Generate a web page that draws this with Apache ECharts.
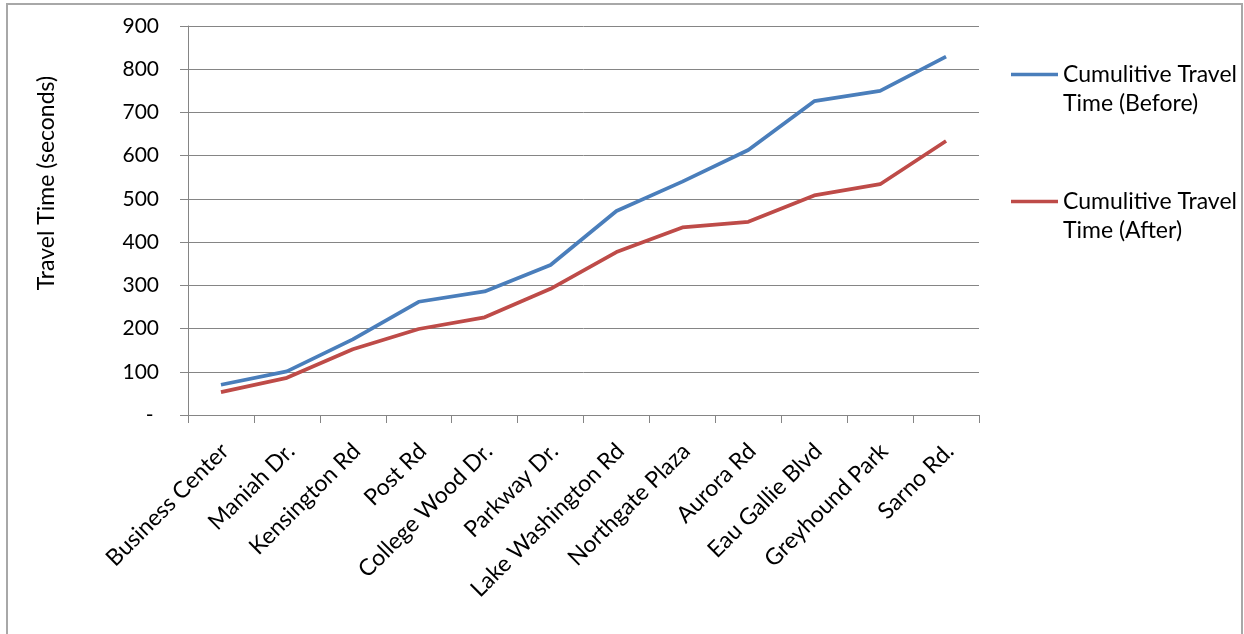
<!DOCTYPE html>
<html>
<head>
<meta charset="utf-8">
<script src="https://cdn.jsdelivr.net/npm/echarts@6/dist/echarts.min.js"></script>
<style>
html,body{margin:0;padding:0;background:#fff;}
#chart{width:1244px;height:634px;}
</style>
</head>
<body>
<div id="chart"></div>
<script>
const categories = ['Business Center','Maniah Dr.','Kensington Rd','Post Rd','College Wood Dr.','Parkway Dr.','Lake Washington Rd','Northgate Plaza','Aurora Rd','Eau Gallie Blvd','Greyhound Park','Sarno Rd.'];
const beforeValues = [70, 101, 175, 262, 286, 347, 472, 540, 613, 726, 750, 829];
const afterValues = [53, 86, 152, 199, 226, 292, 377, 434, 447, 508, 534, 634];
const seriesNames = ['Cumulitive Travel Time (Before)', 'Cumulitive Travel Time (After)'];
const legendLabels = ['Cumulitive Travel\nTime (Before)', 'Cumulitive Travel\nTime (After)'];
const yTitle = 'Travel Time (seconds)';

const FONT = 'Lato';
const GRAY = '#858585';
const TXT = '#000';

const chart = echarts.init(document.getElementById('chart'), null, {renderer: 'canvas'});
chart.setOption({
  animation: false,
  backgroundColor: '#fff',
  textStyle: {fontFamily: FONT},
  graphic: [
    {type: 'rect', z: -10, shape: {x: 7, y: 4, width: 1235, height: 700},
     style: {fill: '#fff', stroke: '#a8a8a8', lineWidth: 2}},
    {type: 'text', x: 47, y: 183, rotation: Math.PI / 2,
     style: {text: yTitle, fontFamily: FONT, fontSize: 23, fill: TXT, align: 'center', verticalAlign: 'middle'}}
  ],
  legend: {
    orient: 'vertical',
    left: 1011,
    top: 31,
    padding: 0,
    itemWidth: 47,
    itemHeight: 14,
    itemGap: 40,
    icon: 'path://M0,6 L47,6 L47,9.5 L0,9.5 Z',
    textStyle: {fontFamily: FONT, fontSize: 23, color: TXT, lineHeight: 29},
    formatter: name => '\n' + legendLabels[seriesNames.indexOf(name)],
    data: seriesNames
  },
  grid: {left: 188, top: 26, width: 791, height: 389, containLabel: false},
  xAxis: {
    type: 'category',
    data: categories,
    boundaryGap: true,
    axisLine: {lineStyle: {color: GRAY, width: 1}},
    axisTick: {show: true, length: 8, lineStyle: {color: GRAY}},
    axisLabel: {rotate: 45, margin: 20, verticalAlign: 'top', padding: [0, 6, 0, 0],
      fontFamily: FONT, fontSize: 23, color: TXT, interval: 0}
  },
  yAxis: {
    type: 'value',
    min: 0, max: 900, interval: 100,
    axisLine: {show: true, lineStyle: {color: GRAY, width: 1}},
    axisTick: {show: true, length: 8, lineStyle: {color: GRAY}},
    splitLine: {show: true, lineStyle: {color: GRAY, width: 1}},
    axisLabel: {margin: 29, fontFamily: FONT, fontSize: 21, color: TXT,
      formatter: v => v === 0 ? '- ' : String(v)}
  },
  series: [
    {name: seriesNames[0], type: 'line', data: beforeValues, symbol: 'none',
     lineStyle: {color: '#4A7EBB', width: 3.75}, itemStyle: {color: '#4A7EBB'}},
    {name: seriesNames[1], type: 'line', data: afterValues, symbol: 'none',
     lineStyle: {color: '#BE4B48', width: 3.75}, itemStyle: {color: '#BE4B48'}}
  ]
});
</script>
</body>
</html>
